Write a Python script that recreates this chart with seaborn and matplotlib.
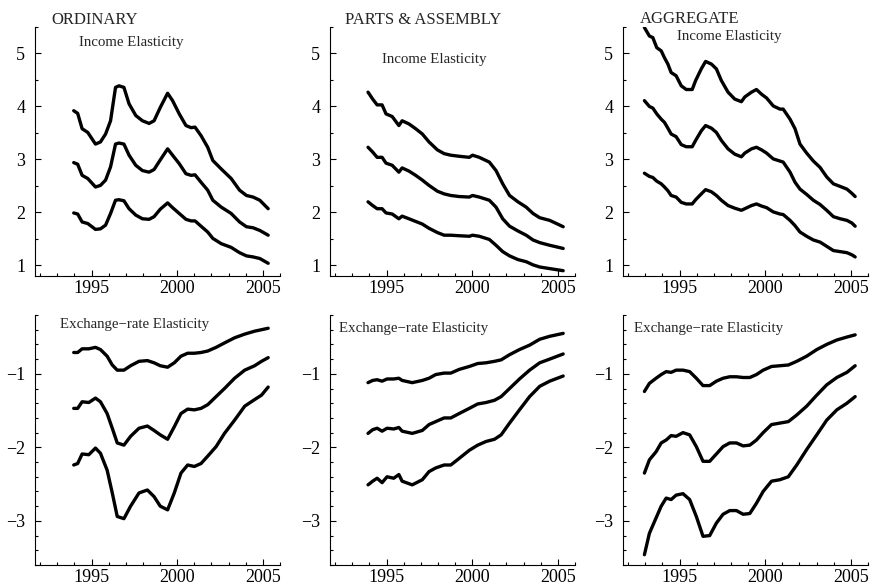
import numpy as np
import pandas as pd
import matplotlib
matplotlib.use("Agg")
import matplotlib.pyplot as plt
from matplotlib.ticker import MultipleLocator
import seaborn as sns

# ---- data (years, three bands per panel) ----
ord_inc_x = [1993.96, 1994.19, 1994.45, 1994.78, 1995.23, 1995.52, 1995.82, 1996.11, 1996.40,
             1996.60, 1996.89, 1997.19, 1997.58, 1997.97, 1998.36, 1998.65, 1999.01, 1999.44,
             1999.73, 2000.12, 2000.51, 2000.81, 2001.04, 2001.39, 2001.78, 2002.08, 2002.57,
             2003.15, 2003.64, 2004.04, 2004.43, 2004.82, 2005.31]
ord_inc_hi = [3.92, 3.87, 3.58, 3.51, 3.29, 3.33, 3.48, 3.73, 4.36, 4.39, 4.36, 4.05, 3.83, 3.73,
              3.68, 3.73, 3.98, 4.25, 4.11, 3.86, 3.64, 3.60, 3.61, 3.45, 3.23, 2.98, 2.82, 2.64,
              2.42, 2.32, 2.29, 2.23, 2.07]
ord_inc_mid = [2.94, 2.91, 2.70, 2.64, 2.48, 2.51, 2.61, 2.86, 3.29, 3.31, 3.29, 3.08, 2.89, 2.79,
               2.76, 2.81, 2.99, 3.20, 3.08, 2.92, 2.73, 2.70, 2.71, 2.57, 2.42, 2.23, 2.10, 1.98,
               1.82, 1.73, 1.71, 1.66, 1.57]
ord_inc_lo = [1.99, 1.97, 1.82, 1.79, 1.68, 1.69, 1.76, 1.98, 2.23, 2.24, 2.22, 2.07, 1.95, 1.88,
              1.87, 1.92, 2.06, 2.18, 2.09, 1.98, 1.87, 1.84, 1.84, 1.74, 1.63, 1.51, 1.41, 1.34,
              1.24, 1.18, 1.16, 1.13, 1.04]

ord_exr_x = [1993.96, 1994.19, 1994.45, 1994.84, 1995.23, 1995.52, 1995.91, 1996.21, 1996.50,
             1996.89, 1997.28, 1997.77, 1998.26, 1998.65, 1999.01, 1999.44, 1999.83, 2000.22,
             2000.61, 2001.00, 2001.39, 2001.78, 2002.27, 2002.76, 2003.35, 2003.94, 2004.52,
             2004.92, 2005.31]
ord_exr_hi = [-0.71, -0.71, -0.66, -0.66, -0.64, -0.67, -0.76, -0.88, -0.95, -0.95, -0.89, -0.83,
              -0.82, -0.85, -0.89, -0.91, -0.85, -0.76, -0.72, -0.72, -0.71, -0.69, -0.64, -0.58,
              -0.51, -0.46, -0.42, -0.40, -0.38]
ord_exr_mid = [-1.47, -1.47, -1.38, -1.39, -1.33, -1.38, -1.54, -1.74, -1.94, -1.97, -1.85, -1.74,
               -1.71, -1.77, -1.83, -1.89, -1.72, -1.54, -1.48, -1.49, -1.47, -1.42, -1.31, -1.20,
               -1.06, -0.95, -0.89, -0.83, -0.78]
ord_exr_lo = [-2.24, -2.22, -2.09, -2.10, -2.01, -2.08, -2.31, -2.62, -2.94, -2.97, -2.80, -2.62,
              -2.58, -2.67, -2.80, -2.85, -2.62, -2.35, -2.24, -2.26, -2.22, -2.12, -1.99, -1.81,
              -1.63, -1.44, -1.35, -1.29, -1.18]

pa_inc_x = [1993.92, 1994.19, 1994.45, 1994.74, 1994.97, 1995.33, 1995.72, 1995.91, 1996.31,
            1996.70, 1997.09, 1997.48, 1997.97, 1998.36, 1998.75, 1999.24, 1999.83, 2000.02,
            2000.41, 2001.00, 2001.39, 2001.78, 2002.18, 2002.67, 2003.15, 2003.55, 2003.94,
            2004.52, 2004.92, 2005.31]
pa_inc_hi = [4.27, 4.14, 4.03, 4.03, 3.86, 3.81, 3.64, 3.73, 3.67, 3.58, 3.48, 3.33, 3.18, 3.11,
             3.08, 3.06, 3.04, 3.08, 3.04, 2.95, 2.79, 2.54, 2.32, 2.20, 2.10, 1.98, 1.90, 1.85,
             1.79, 1.73]
pa_inc_mid = [3.23, 3.14, 3.04, 3.04, 2.93, 2.89, 2.76, 2.84, 2.78, 2.70, 2.61, 2.51, 2.40, 2.35,
              2.32, 2.30, 2.29, 2.32, 2.29, 2.23, 2.10, 1.88, 1.74, 1.65, 1.57, 1.48, 1.43, 1.38,
              1.35, 1.32]
pa_inc_lo = [2.20, 2.13, 2.07, 2.07, 1.99, 1.97, 1.88, 1.93, 1.88, 1.83, 1.78, 1.70, 1.62, 1.57,
             1.57, 1.56, 1.55, 1.57, 1.55, 1.49, 1.38, 1.26, 1.18, 1.11, 1.07, 1.01, 0.97, 0.94,
             0.92, 0.90]

pa_exr_x = [1993.92, 1994.19, 1994.45, 1994.74, 1995.03, 1995.42, 1995.72, 1995.91, 1996.50,
            1997.09, 1997.48, 1997.87, 1998.36, 1998.75, 1999.24, 1999.83, 2000.32, 2000.81,
            2001.30, 2001.69, 2002.18, 2002.76, 2003.35, 2003.94, 2004.52, 2005.31]
pa_exr_hi = [-1.12, -1.09, -1.08, -1.10, -1.07, -1.07, -1.06, -1.09, -1.12, -1.09, -1.06, -1.01,
             -0.99, -0.99, -0.94, -0.90, -0.86, -0.85, -0.83, -0.81, -0.74, -0.67, -0.61, -0.53,
             -0.49, -0.45]
pa_exr_mid = [-1.81, -1.76, -1.74, -1.78, -1.74, -1.75, -1.73, -1.78, -1.81, -1.77, -1.69, -1.65,
              -1.60, -1.60, -1.54, -1.47, -1.41, -1.39, -1.36, -1.31, -1.20, -1.07, -0.95, -0.85,
              -0.80, -0.73]
pa_exr_lo = [-2.51, -2.46, -2.42, -2.48, -2.40, -2.42, -2.37, -2.46, -2.51, -2.44, -2.33, -2.28,
             -2.24, -2.24, -2.15, -2.04, -1.97, -1.92, -1.89, -1.83, -1.67, -1.49, -1.31, -1.17,
             -1.10, -1.03]

ag_inc_x = [1992.95, 1993.24, 1993.44, 1993.67, 1993.93, 1994.12, 1994.32, 1994.51, 1994.80,
            1995.10, 1995.39, 1995.74, 1995.94, 1996.27, 1996.52, 1996.86, 1997.15, 1997.44,
            1997.83, 1998.22, 1998.61, 1998.81, 1999.20, 1999.49, 1999.79, 2000.08, 2000.47,
            2000.86, 2001.05, 2001.45, 2001.74, 2002.03, 2002.42, 2002.81, 2003.20, 2003.59,
            2003.98, 2004.38, 2004.77, 2005.06, 2005.25]
ag_inc_hi = [5.49, 5.33, 5.30, 5.11, 5.05, 4.92, 4.80, 4.64, 4.58, 4.39, 4.32, 4.32, 4.49, 4.71,
             4.85, 4.80, 4.71, 4.49, 4.27, 4.14, 4.09, 4.18, 4.27, 4.32, 4.23, 4.16, 4.01, 3.95,
             3.95, 3.76, 3.58, 3.29, 3.12, 2.97, 2.85, 2.67, 2.54, 2.49, 2.44, 2.36, 2.30]
ag_inc_mid = [4.11, 4.00, 3.97, 3.86, 3.76, 3.70, 3.59, 3.48, 3.43, 3.28, 3.24, 3.24, 3.36, 3.54,
              3.64, 3.59, 3.51, 3.36, 3.20, 3.10, 3.05, 3.12, 3.20, 3.23, 3.18, 3.12, 3.01, 2.97,
              2.95, 2.76, 2.57, 2.44, 2.34, 2.23, 2.15, 2.04, 1.92, 1.88, 1.85, 1.80, 1.74]
ag_inc_lo = [2.74, 2.68, 2.66, 2.59, 2.54, 2.48, 2.41, 2.32, 2.29, 2.19, 2.16, 2.16, 2.24, 2.35,
             2.43, 2.39, 2.32, 2.23, 2.13, 2.08, 2.04, 2.07, 2.13, 2.16, 2.12, 2.09, 2.01, 1.97,
             1.96, 1.85, 1.75, 1.63, 1.55, 1.48, 1.44, 1.36, 1.28, 1.26, 1.24, 1.20, 1.16]

ag_exr_x = [1992.95, 1993.24, 1993.63, 1993.93, 1994.22, 1994.51, 1994.80, 1995.20, 1995.59,
            1995.98, 1996.37, 1996.76, 1997.15, 1997.54, 1997.93, 1998.32, 1998.71, 1999.10,
            1999.49, 1999.88, 2000.37, 2000.86, 2001.35, 2001.84, 2002.42, 2003.01, 2003.59,
            2004.18, 2004.77, 2005.25]
ag_exr_hi = [-1.24, -1.13, -1.06, -1.01, -0.97, -0.98, -0.95, -0.95, -0.97, -1.06, -1.16, -1.16,
             -1.10, -1.06, -1.04, -1.04, -1.05, -1.05, -1.01, -0.95, -0.90, -0.89, -0.88, -0.83,
             -0.76, -0.67, -0.60, -0.54, -0.50, -0.47]
ag_exr_mid = [-2.35, -2.17, -2.06, -1.94, -1.90, -1.84, -1.85, -1.80, -1.83, -1.99, -2.19, -2.19,
              -2.09, -1.99, -1.94, -1.94, -1.98, -1.97, -1.90, -1.80, -1.69, -1.67, -1.65, -1.56,
              -1.44, -1.29, -1.15, -1.05, -0.98, -0.89]
ag_exr_lo = [-3.46, -3.17, -2.96, -2.80, -2.69, -2.71, -2.65, -2.63, -2.71, -2.94, -3.21, -3.20,
             -3.03, -2.91, -2.86, -2.86, -2.91, -2.90, -2.76, -2.60, -2.46, -2.44, -2.40, -2.24,
             -2.03, -1.83, -1.63, -1.49, -1.40, -1.31]

titles = ["ORDINARY", "PARTS & ASSEMBLY", "AGGREGATE"]
inc_label = "Income Elasticity"
exr_label = "Exchange\u2212rate Elasticity"

panels = [
    [(ord_inc_x, [ord_inc_hi, ord_inc_mid, ord_inc_lo]),
     (pa_inc_x, [pa_inc_hi, pa_inc_mid, pa_inc_lo]),
     (ag_inc_x, [ag_inc_hi, ag_inc_mid, ag_inc_lo])],
    [(ord_exr_x, [ord_exr_hi, ord_exr_mid, ord_exr_lo]),
     (pa_exr_x, [pa_exr_hi, pa_exr_mid, pa_exr_lo]),
     (ag_exr_x, [ag_exr_hi, ag_exr_mid, ag_exr_lo])],
]

sns.set_style("ticks")
plt.rcParams['font.family'] = ['Liberation Serif', 'DejaVu Serif']

W, H = 871, 588
fig = plt.figure(figsize=(W / 100, H / 100), dpi=100)

# axes boxes in pixels (left, top, right, bottom)
lefts = [35, 330, 623]
width = 245
rows = [(27, 276), (315, 565)]

# label positions in axes fraction
title_pos = [(0.066, 1.012), (0.061, 1.012), (0.068, 1.015)]
inc_pos = [(0.18, 0.924), (0.213, 0.855), (0.22, 0.948)]
exr_pos = [(0.102, 0.947), (0.037, 0.933), (0.044, 0.933)]

for r in range(2):
    top, bot = rows[r]
    for c in range(3):
        ax = fig.add_axes([lefts[c] / W, 1 - bot / H, width / W, (bot - top) / H])
        xs, bands = panels[r][c]
        for ys in bands:
            df = pd.DataFrame({"year": xs, "val": ys})
            sns.lineplot(data=df, x="year", y="val", ax=ax, color="black",
                         lw=2.4, estimator=None, sort=False)
        ax.set_xlim(1991.7, 2006.0)
        ax.set_xticks([1995, 2000, 2005])
        ax.xaxis.set_minor_locator(MultipleLocator(1))
        if r == 0:
            ax.set_ylim(0.8, 5.5)
            ax.set_yticks([1, 2, 3, 4, 5])
            ax.yaxis.set_minor_locator(MultipleLocator(0.5))
            ax.text(*title_pos[c], titles[c], transform=ax.transAxes,
                    fontsize=12, ha="left", va="baseline")
            ax.text(*inc_pos[c], inc_label, transform=ax.transAxes,
                    fontsize=10.7, ha="left", va="baseline")
        else:
            ax.set_ylim(-3.6, -0.2)
            ax.set_yticks([-3, -2, -1])
            ax.yaxis.set_minor_locator(MultipleLocator(0.2))
            ax.text(*exr_pos[c], exr_label, transform=ax.transAxes,
                    fontsize=10.7, ha="left", va="baseline")
        ax.set_xlabel("")
        ax.set_ylabel("")
        sns.despine(ax=ax)
        for s in ["left", "bottom"]:
            ax.spines[s].set_linewidth(0.8)
            ax.spines[s].set_color("black")
        ax.tick_params(which="major", direction="in", length=4.5, width=0.8,
                       labelsize=13, colors="black")
        ax.tick_params(which="minor", direction="in", length=2, width=0.8, colors="black")
        ax.tick_params(axis="y", which="major", pad=7)
        ax.tick_params(axis="x", which="major", pad=3)

fig.savefig("out.png", dpi=100)
